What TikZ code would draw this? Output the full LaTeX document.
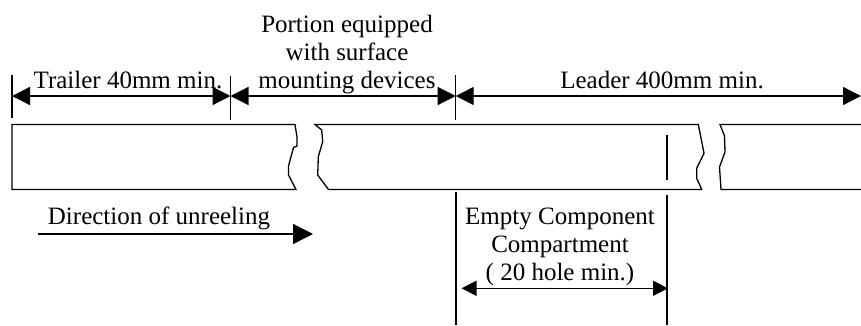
\documentclass[tikz,border=0pt]{standalone}
\usepackage{fontspec}
\setmainfont{Liberation Serif}
\usetikzlibrary{arrows.meta}

\tikzset{
	dimline/.style={{Triangle[length=18pt,width=18pt]}-{Triangle[length=18pt,width=18pt]}},
	smalldim/.style={{Triangle[length=15pt,width=15pt]}-{Triangle[length=15pt,width=15pt]}},
	feedarrow/.style={-{Triangle[length=20pt,width=20pt]}},
	label/.style={anchor=base,inner sep=0pt,align=center}
}

\begin{document}
\begin{tikzpicture}[x=1pt,y=-1pt,line width=1.3pt,font=\fontsize{25}{27.8}\selectfont]
	\useasboundingbox (0,0) rectangle (861,325);

	% texts
	\node[label] (trailer)   at (128,88)  {Trailer 40mm min.};
	\node[label] (portion)   at (347,88)  {Portion equipped\\with surface\\mounting devices};
	\node[label] (leader)    at (662,88)  {Leader 400mm min.};
	\node[label] (direction) at (159,224) {Direction of unreeling};
	\node[label] (empty)     at (560,280) {Empty Component\\Compartment\\( 20 hole min.)};

	% tape, cut in two places
	\draw (295,124.5) -- (12,124.5) -- (12,189.5) -- (296,189.5) -- (288.5,175) -- (288.5,166) -- (293.5,147.5) -- (297,146) -- (297,137) -- cycle;
	\draw (328.5,189.5) -- (317.7,175) -- (318.3,156.7) -- (322.7,141.7) -- (321.7,130) -- (315,124.5) -- (698.3,124.5) -- (704,153.3) -- (696.7,168.3) -- (696.7,178.3) -- (701.7,189.5) -- cycle;
	\draw (861,124.5) -- (720,124.5) -- (724.5,136) -- (725,152) -- (719.5,167) -- (721,189.5) -- (861,189.5);
	\coordinate (hole) at (667,135);
	\coordinate (holeend) at (667,180);
	\draw (hole) -- (holeend);

	% ticks
	\coordinate (ta) at (12,75);    \coordinate (tab) at (12,118);
	\coordinate (tb) at (230.5,76); \coordinate (tbb) at (230.5,120);
	\coordinate (tc) at (455.7,75); \coordinate (tcb) at (455.7,120);
	\coordinate (td) at (456,192);  \coordinate (tdb) at (456,325);
	\coordinate (te) at (667,195);  \coordinate (teb) at (667,325);
	\draw (ta) -- (tab);
	\draw (tb) -- (tbb);
	\draw (tc) -- (tcb);
	\draw (td) -- (tdb);
	\draw (te) -- (teb);

	% dimensions
	\coordinate (da) at (12,96);
	\coordinate (db) at (230.5,96);
	\coordinate (dc) at (455.7,96);
	\coordinate (dd) at (861,96);
	\coordinate (ea) at (461.5,288.3);
	\coordinate (eb) at (668,288.3);
	\coordinate (fa) at (38,234);
	\coordinate (fb) at (313,234);
	\draw[dimline] (da) -- (db);
	\draw[dimline] (db) -- (dc);
	\draw[dimline] (dc) -- (dd);
	\draw[smalldim] (ea) -- (eb);
	\draw[feedarrow] (fa) -- (fb);

\end{tikzpicture}
\end{document}
